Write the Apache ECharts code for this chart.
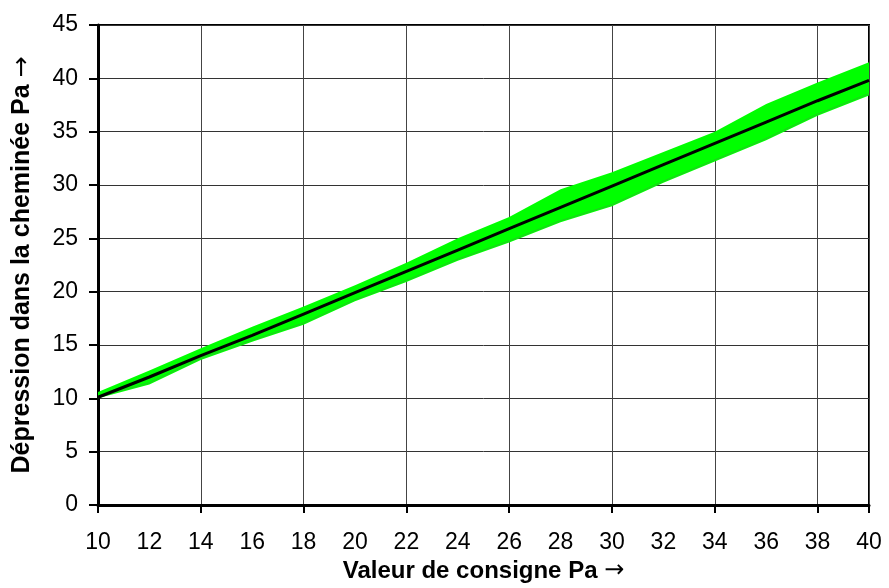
<!DOCTYPE html>
<html><head><meta charset="utf-8">
<script src="https://cdn.jsdelivr.net/npm/echarts@6/dist/echarts.min.js"></script>
<style>html,body{margin:0;padding:0;background:#fff}#c{width:889px;height:588px}</style>
</head><body><div id="c"></div>
<script>
const xs    = [10, 12, 14, 16, 18, 20, 22, 24, 26, 28, 30, 32, 34, 36, 38, 40];
const upper = [10.6, 12.6, 14.7, 16.7, 18.6, 20.6, 22.7, 25.0, 27.0, 29.6, 31.2, 33.1, 35.0, 37.6, 39.6, 41.5];
const lower = [10.0, 11.3, 13.6, 15.3, 16.9, 19.1, 20.9, 22.9, 24.6, 26.5, 28.0, 30.2, 32.2, 34.2, 36.5, 38.4];
const mid   = [10.1, 12.0, 14.0, 15.9, 17.9, 19.9, 21.9, 23.9, 25.9, 27.9, 29.9, 31.9, 33.9, 35.9, 37.9, 39.8];
const xTitle = 'Valeur de consigne Pa {a|\u2192}';
const yTitle = 'Dépression dans la cheminée Pa {a|\u2192}';

const font = 'Liberation Sans, Arial, sans-serif';
const arrowRich = {a: {fontFamily: 'DejaVu Sans', fontWeight: 'normal', color: '#000'}};
const chart = echarts.init(document.getElementById('c'), null, {renderer: 'canvas'});
chart.setOption({
  animation: false,
  grid: {left: 98, right: 20, top: 25, bottom: 83, show: true, borderColor: '#000', borderWidth: 2},
  xAxis: [{
    type: 'value', min: 10, max: 40, interval: 2, position: 'bottom',
    axisLine: {show: true, lineStyle: {color: '#000', width: 3}},
    axisTick: {show: false}, splitLine: {show: false},
    axisLabel: {color: '#000', fontSize: 23, fontFamily: font, margin: 26},
    name: xTitle, nameLocation: 'middle', nameGap: 51,
    nameTextStyle: {color: '#000', fontSize: 24, fontWeight: 'bold', fontFamily: font,
      rich: {a: Object.assign({fontSize: 24}, arrowRich.a)}}
  }, {
    type: 'value', min: 10, max: 40, interval: 4, position: 'bottom',
    axisLine: {show: false},
    axisTick: {show: true, inside: false, length: 8, lineStyle: {color: '#000', width: 2}},
    splitLine: {show: true, lineStyle: {color: '#444', width: 1}},
    axisLabel: {show: false}
  }],
  yAxis: {
    type: 'value', min: 0, max: 45, interval: 5,
    axisLine: {show: true, lineStyle: {color: '#000', width: 3}},
    axisTick: {show: true, length: 9, lineStyle: {color: '#000', width: 2}},
    splitLine: {show: true, lineStyle: {color: '#333', width: 1}},
    axisLabel: {color: '#000', fontSize: 23, fontFamily: font, margin: 20},
    name: yTitle, nameLocation: 'middle', nameGap: 63, nameRotate: 90,
    nameTextStyle: {color: '#000', fontSize: 25, fontWeight: 'bold', fontFamily: font,
      rich: {a: Object.assign({fontSize: 25}, arrowRich.a)}}
  },
  series: [{
    type: 'custom', silent: true, z: 3,
    data: xs.map((x, i) => [x, lower[i], upper[i]]),
    encode: {x: 0, y: [1, 2]},
    renderItem: function (params, api) {
      if (params.dataIndex !== 0) return null;
      const pts = [];
      for (let i = 0; i < xs.length; i++) pts.push(api.coord([xs[i], upper[i]]));
      for (let i = xs.length - 1; i >= 0; i--) pts.push(api.coord([xs[i], lower[i]]));
      return {type: 'polygon', shape: {points: pts}, style: {fill: '#00ff00', stroke: null}};
    }
  }, {
    type: 'line', data: xs.map((x, i) => [x, lower[i] + 0.15]),
    symbol: 'none', lineStyle: {color: '#26c626', width: 1}, z: 4, silent: true
  }, {
    type: 'line', data: xs.map((x, i) => [x, mid[i]]),
    symbol: 'none', lineStyle: {color: '#000', width: 3}, z: 5, silent: true
  }]
});
</script></body></html>
